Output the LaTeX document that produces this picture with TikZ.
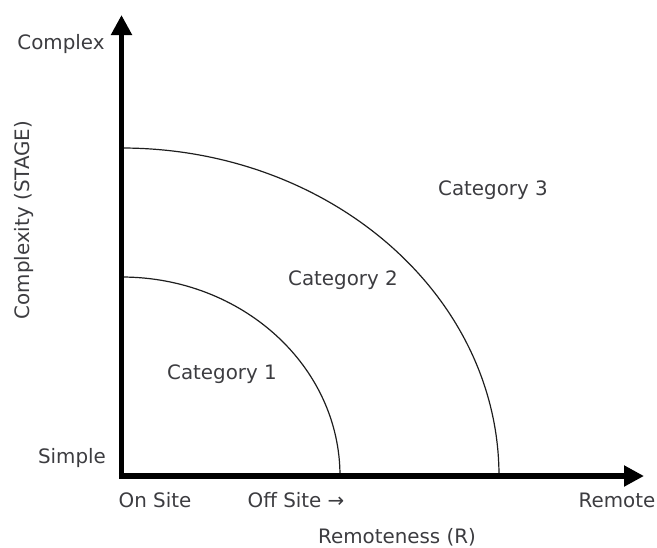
\documentclass[tikz,border=0pt]{standalone}
\usepackage{fontspec}
\setmainfont{DejaVu Sans}
\usetikzlibrary{arrows.meta}

\definecolor{labelgray}{RGB}{60,60,64}
\tikzset{every picture/.style={line width=0.75pt}}
\tikzset{
  axisline/.style={line width=3.9pt, -{Triangle[length=15pt,width=15pt]}},
  zoneline/.style={line width=0.9pt, draw={rgb, 255:red, 30; green, 30; blue, 30}},
  axislabel/.style={text=labelgray, font=\fontsize{14.9}{17}\selectfont, inner sep=0pt},
}

\begin{document}
\begin{tikzpicture}[x=0.75pt,y=0.75pt,yscale=-1,xscale=1]
\useasboundingbox (0,0) rectangle (657,547);

\coordinate (O) at (121.5,476);
\coordinate (ytip) at (121.5,15);
\coordinate (xtip) at (644,476);

%Arc: inner zone
\draw [zoneline] (O) ++(218.5,0) arc [start angle=0, end angle=-90, x radius=218.5, y radius=199];
%Arc: outer zone
\draw [zoneline] (O) ++(377.5,0) arc [start angle=0, end angle=-90, x radius=377.5, y radius=328];

%Straight Lines: axes
\draw [axisline] (O.center) -- (ytip);
\draw [axisline] ([xshift=-1.9pt]O.center) -- (xtip);

% Text Node
\node [axislabel] (complex) at (61,44) {Complex};
% Text Node
\node [axislabel] (simple) at (72,458) {Simple};
% Text Node
\node [axislabel, rotate=90] (stage) at (24,220) {Complexity (STAGE)};
% Text Node
\node [axislabel] (onsite) at (155,500) {On Site};
% Text Node
\node [axislabel] (offsite) at (296,500) {Off Site →};
% Text Node
\node [axislabel] (remote) at (617,500) {Remote};
% Text Node
\node [axislabel] (remoteness) at (397,537) {Remoteness (R)};
% Text Node
\node [axislabel] (cat1) at (222,374) {Category 1};
% Text Node
\node [axislabel] (cat2) at (343,280) {Category 2};
% Text Node
\node [axislabel] (cat3) at (493,190) {Category 3};

\end{tikzpicture}
\end{document}
